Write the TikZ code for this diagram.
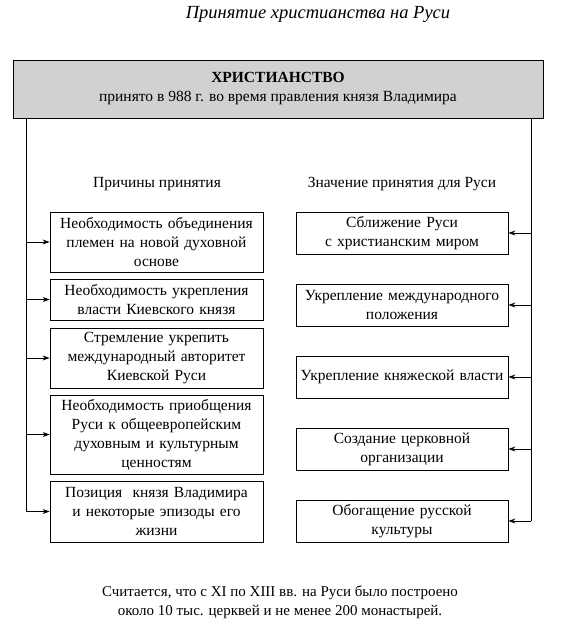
\documentclass[tikz,border=0pt]{standalone}
\usepackage{fontspec}
\setmainfont{Liberation Serif}
\usetikzlibrary{arrows.meta}

\tikzset{
	box/.style={draw, line width=0.8pt, align=center, inner sep=2pt,
		font=\fontsize{15.5}{19}\selectfont},
	leftbox/.style={box, text width=207pt, minimum width=213pt},
	rightbox/.style={box, text width=206pt, minimum width=212pt, minimum height=42pt},
	arr/.style={-{Stealth[length=7pt,width=5pt]}, line width=0.8pt},
	line/.style={line width=0.8pt}
}

\begin{document}
\begin{tikzpicture}[x=1pt,y=-1pt]
	\useasboundingbox[fill=white] (0,0) rectangle (560,635);

	% Title
	\node[font=\itshape\fontsize{18.5}{21}\selectfont] (title) at (318,14) {Принятие христианства на Руси};

	% Main box
	\node[draw, line width=0.8pt, fill=black!18, minimum width=530pt, minimum height=58pt,
		align=center, font=\fontsize{15.5}{19}\selectfont] (main) at (278,89)
		{\textbf{ХРИСТИАНСТВО}\\принято в 988 г. во время правления князя Владимира};

	% Headings
	\node[font=\fontsize{15.5}{19}\selectfont] (causes) at (157,184) {Причины принятия};
	\node[font=\fontsize{15.5}{19}\selectfont] (meaning) at (402,184) {Значение принятия для Руси};

	% Left boxes
	\node[leftbox, minimum height=60pt] (L1) at (156.5,242) {Необходимость объединения\\племен на новой духовной\\основе};
	\node[leftbox, minimum height=41pt] (L2) at (156.5,299.5) {Необходимость укрепления\\власти Киевского князя};
	\node[leftbox, minimum height=60pt] (L3) at (156.5,358) {Стремление укрепить\\международный авторитет\\Киевской Руси};
	\node[leftbox, minimum height=79pt] (L4) at (156.5,434.5) {Необходимость приобщения\\Руси к общеевропейским\\духовным и культурным\\ценностям};
	\node[leftbox, minimum height=61pt] (L5) at (156.5,511.5) {Позиция~ князя Владимира\\и некоторые эпизоды его\\жизни};

	% Right boxes
	\node[rightbox] (R1) at (402,233) {Сближение Руси\\с христианским миром};
	\node[rightbox] (R2) at (402,305) {Укрепление международного\\положения};
	\node[rightbox] (R3) at (402,377) {Укрепление княжеской власти};
	\node[rightbox] (R4) at (402,449) {Создание церковной\\организации};
	\node[rightbox] (R5) at (402,521) {Обогащение русской\\культуры};

	% Footnote
	\node[align=center, font=\fontsize{15}{19}\selectfont] (note) at (280,602)
		{Считается, что с XI по XIII вв. на Руси было построено\\около 10 тыс. церквей и не менее 200 монастырей.};

	% Side lines
	\coordinate (lineL) at (26,118);
	\coordinate (lineR) at (531,118);
	\draw[line] (main.south -| lineL) -- (L5 -| lineL);
	\draw[line] (main.south -| lineR) -- (R5 -| lineR);

	% Arrows
	\foreach \n in {L1,L2,L3,L4,L5}
		\draw[arr] (\n -| lineL) -- (\n.west);
	\foreach \n in {R1,R2,R3,R4,R5}
		\draw[arr] (\n -| lineR) -- (\n.east);
\end{tikzpicture}
\end{document}
